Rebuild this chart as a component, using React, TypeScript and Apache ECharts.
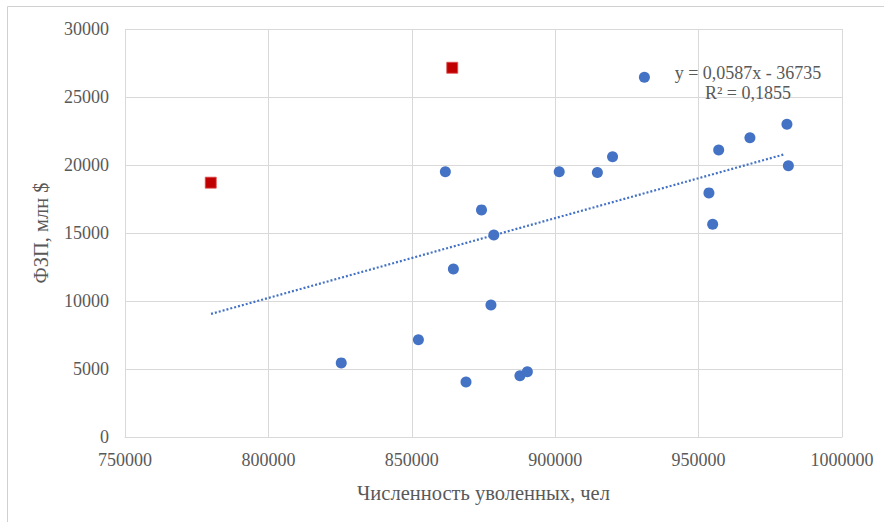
import React, { useEffect, useRef } from "react";
import * as echarts from "echarts";

const blueX = [825400, 852300, 868900, 887700, 890300, 877600, 864500, 861700, 874300, 878600, 901400, 914700, 920000, 931100, 957000, 967900, 980800, 981300, 953600, 954900];
const blueY = [5450, 7150, 4050, 4500, 4800, 9700, 12350, 19500, 16700, 14850, 19500, 19450, 20600, 26450, 21100, 22000, 23000, 19950, 17950, 15650];
const redX = [779900, 864100];
const redY = [18700, 27150];
const trendX = [780000, 980000];
const trendY = [9050, 20790];
const equationLines = ["y = 0,0587x - 36735", "R² = 0,1855"];
const xTitle = "Численность уволенных, чел";
const yTitle = "ФЗП, млн $";

const FONT = "'Liberation Serif', 'Times New Roman', serif";
const TEXT = "#595959";
const GRID = "#d9d9d9";

export default function App() {
  const ref = useRef<HTMLDivElement>(null);
  useEffect(() => {
    if (!ref.current) return;
    const chart = echarts.init(ref.current, undefined, { renderer: "svg" });
    chart.setOption({
      animation: false,
      backgroundColor: "#ffffff",
      textStyle: { fontFamily: FONT },
      grid: { left: 125, right: 42, top: 29, bottom: 85, containLabel: false },
      xAxis: {
        type: "value",
        min: 750000,
        max: 1000000,
        interval: 50000,
        name: xTitle,
        nameLocation: "middle",
        nameGap: 45,
        nameTextStyle: { color: TEXT, fontSize: 20.5, fontFamily: FONT },
        axisLine: { show: true, lineStyle: { color: GRID, width: 1 } },
        axisTick: { show: false },
        axisLabel: { color: TEXT, fontSize: 18, fontFamily: FONT, margin: 14, formatter: (v: number) => String(v) },
        splitLine: { show: true, showMinLine: true, showMaxLine: true, lineStyle: { color: GRID, width: 1 } },
      },
      yAxis: {
        type: "value",
        min: 0,
        max: 30000,
        interval: 5000,
        name: yTitle,
        nameLocation: "middle",
        nameGap: 74,
        nameRotate: 90,
        nameTextStyle: { color: TEXT, fontSize: 20.5, fontFamily: FONT },
        axisLine: { show: false },
        axisTick: { show: false },
        axisLabel: { color: TEXT, fontSize: 18, fontFamily: FONT, margin: 16, formatter: (v: number) => String(v) },
        splitLine: { show: true, lineStyle: { color: GRID, width: 1 } },
      },
      series: [
        {
          type: "line",
          data: trendX.map((x, i) => [x, trendY[i]]),
          symbol: "none",
          lineStyle: { color: "#4472C4", width: 2.2, type: [2, 2] },
          z: 1,
          silent: true,
        },
        {
          type: "scatter",
          data: blueX.map((x, i) => [x, blueY[i]]),
          symbol: "circle",
          symbolSize: 11,
          itemStyle: { color: "#4472C4", opacity: 1 },
          z: 3,
        },
        {
          type: "scatter",
          data: redX.map((x, i) => [x, redY[i]]),
          symbol: "rect",
          symbolSize: 11,
          itemStyle: { color: "#C00000", borderColor: "#e05050", borderWidth: 0.8, opacity: 1 },
          z: 3,
        },
      ],
      graphic: [
        {
          type: "rect",
          shape: { x: 7.5, y: 6.5, width: 900, height: 540 },
          style: { fill: "none", stroke: "#d0d0d0", lineWidth: 1 },
          silent: true,
          z: -1,
        },
        {
          type: "text",
          x: 748,
          y: 73,
          style: { text: equationLines[0], fill: TEXT, font: `18px ${FONT}`, textAlign: "center", textVerticalAlign: "middle" },
          z: 10,
        },
        {
          type: "text",
          x: 748,
          y: 93,
          style: { text: equationLines[1], fill: TEXT, font: `18px ${FONT}`, textAlign: "center", textVerticalAlign: "middle" },
          z: 10,
        },
      ],
    });
    return () => chart.dispose();
  }, []);
  return <div ref={ref} style={{ position: "fixed", left: 0, top: 0, width: 884, height: 522 }} />;
}
